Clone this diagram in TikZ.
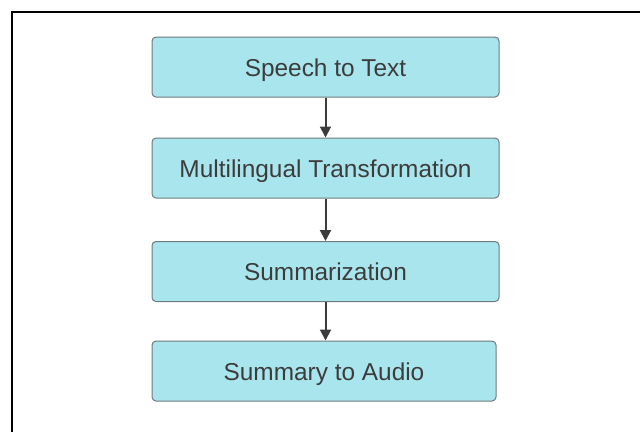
\documentclass[tikz,border=0pt]{standalone}
\usepackage{fontspec}
\setmainfont{Liberation Sans}
\usetikzlibrary{positioning,arrows.meta}

\definecolor{boxfill}{HTML}{A9E5ED}
\definecolor{boxline}{HTML}{6E7B7E}
\definecolor{txtgray}{HTML}{3C3C3C}

\begin{document}
\begin{tikzpicture}[x=1pt,y=-1pt,
	stage/.style = {shape=rectangle, rounded corners=4pt, draw=boxline, line width=1pt,
		fill=boxfill, minimum width=347pt, minimum height=60pt, text=txtgray,
		text height=20pt, text depth=2pt,
		font=\fontsize{24.4}{29}\selectfont},
	flow/.style = {-{Triangle[width=11pt,length=11pt]}, line width=2pt, draw=txtgray}
	]
  \useasboundingbox (0,0) rectangle (640,432);
  % frame of the page
  \draw [line width=1.5pt] (12,432) -- (12,12) -- (640,12);

  \node [stage] (stt) at (325.5,67) {Speech to Text};
  \node [stage, below=40pt of stt] (mlt) {Multilingual Transformation};
  \node [stage, below=42.5pt of mlt] (summ) {Summarization};
  \node [stage, below=38.5pt of summ, minimum width=344pt, xshift=-1.5pt] (sta) {Summary to Audio};

  \draw [flow] (stt) -- (mlt);
  \draw [flow] (mlt) -- (summ);
  \draw [flow] (summ.south) -- (summ.south |- sta.north);
\end{tikzpicture}
\end{document}
